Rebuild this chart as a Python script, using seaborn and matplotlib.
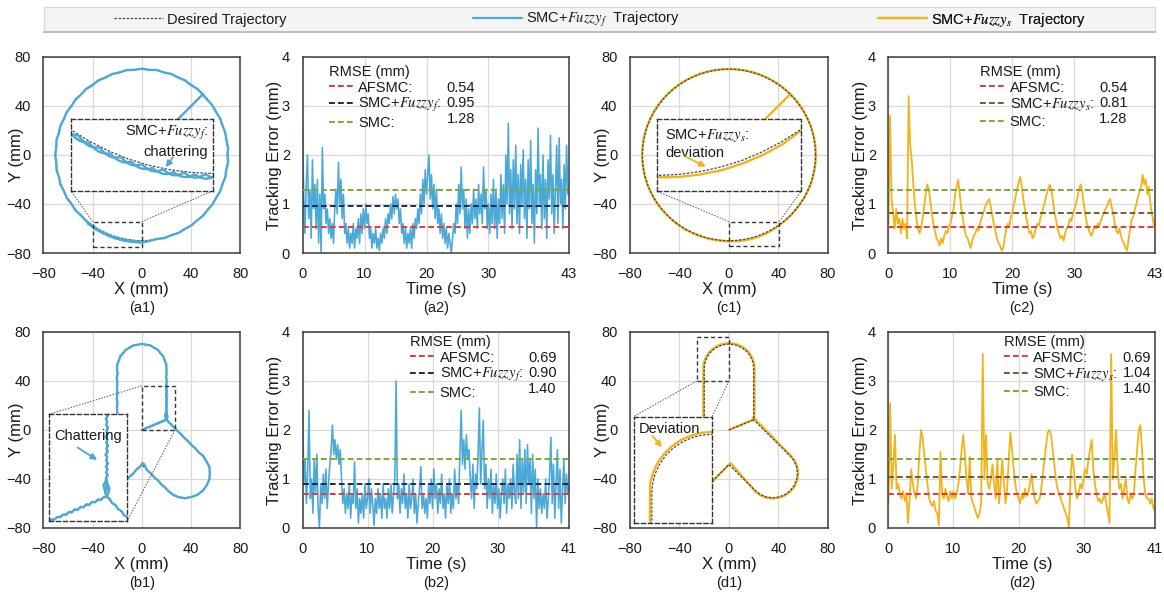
import numpy as np
import seaborn as sns
import matplotlib
matplotlib.use('Agg')
import matplotlib.pyplot as plt
from matplotlib.lines import Line2D
from matplotlib.patches import Rectangle

# ---------------------------------------------------------------- data
# Desired circle (mm), read every 5 degrees
desired_circle = [
    (70.0, 0.0), (69.7, 6.1), (68.9, 12.2), (67.6, 18.1), (65.8, 23.9), (63.4, 29.6), (60.6, 35.0),
    (57.3, 40.2), (53.6, 45.0), (49.5, 49.5), (45.0, 53.6), (40.2, 57.3), (35.0, 60.6), (29.6, 63.4),
    (23.9, 65.8), (18.1, 67.6), (12.2, 68.9), (6.1, 69.7), (0.0, 70.0), (-6.1, 69.7), (-12.2, 68.9),
    (-18.1, 67.6), (-23.9, 65.8), (-29.6, 63.4), (-35.0, 60.6), (-40.2, 57.3), (-45.0, 53.6),
    (-49.5, 49.5), (-53.6, 45.0), (-57.3, 40.2), (-60.6, 35.0), (-63.4, 29.6), (-65.8, 23.9),
    (-67.6, 18.1), (-68.9, 12.2), (-69.7, 6.1), (-70.0, 0.0), (-69.7, -6.1), (-68.9, -12.2),
    (-67.6, -18.1), (-65.8, -23.9), (-63.4, -29.6), (-60.6, -35.0), (-57.3, -40.2), (-53.6, -45.0),
    (-49.5, -49.5), (-45.0, -53.6), (-40.2, -57.3), (-35.0, -60.6), (-29.6, -63.4), (-23.9, -65.8),
    (-18.1, -67.6), (-12.2, -68.9), (-6.1, -69.7), (0.0, -70.0), (6.1, -69.7), (12.2, -68.9),
    (18.1, -67.6), (23.9, -65.8), (29.6, -63.4), (35.0, -60.6), (40.2, -57.3), (45.0, -53.6),
    (49.5, -49.5), (53.6, -45.0), (57.3, -40.2), (60.6, -35.0), (63.4, -29.6), (65.8, -23.9),
    (67.6, -18.1), (68.9, -12.2), (69.7, -6.1), (70.0, 0.0),
]

# SMC+Fuzzy_f on the circle (start segment, then one lap)
fuzzy_f_circle = [
    (0.0, 0.0), (12.3, 12.6), (24.6, 24.4), (37.2, 37.0), (49.5, 49.5),
    (45.2, 53.9), (40.0, 57.0), (35.2, 60.9), (29.5, 63.2), (24.0, 66.1), (18.0, 67.3), (12.3, 69.3),
    (6.1, 69.4), (0.0, 70.4), (-6.1, 69.4), (-12.3, 69.3), (-18.0, 67.3), (-24.0, 66.1), (-29.5, 63.2),
    (-35.2, 60.9), (-40.0, 57.0), (-45.2, 53.9), (-49.3, 49.3), (-53.9, 45.2), (-57.0, 40.0),
    (-60.9, 35.2), (-63.2, 29.5), (-66.1, 24.0), (-67.3, 18.0), (-69.3, 12.3), (-69.4, 6.1),
    (-70.4, 0.0), (-69.4, -6.1), (-69.3, -12.3), (-67.3, -18.0), (-66.1, -24.0), (-63.2, -29.5),
    (-60.9, -35.2), (-57.0, -40.0), (-53.9, -45.2), (-49.3, -49.3), (-45.2, -53.9),
    (-44, -54.6), (-43, -56.0), (-42, -57.2), (-41, -58.1), (-40, -58.7), (-39, -58.9), (-38, -59.0),
    (-37, -60.2), (-36, -61.3), (-35, -62.0), (-34, -62.4), (-33, -62.5), (-32, -62.5), (-31, -63.6),
    (-30, -64.5), (-29, -65.1), (-28, -65.4), (-27, -65.4), (-26, -65.2), (-25, -66.2), (-24, -67.0),
    (-23, -67.5), (-22, -67.7), (-21, -67.6), (-20, -67.3), (-19, -68.2), (-18, -68.9), (-17, -69.3),
    (-16, -69.4), (-15, -69.2), (-14, -68.8), (-13, -69.6), (-12, -70.2), (-11, -70.5), (-10, -70.5),
    (-9, -70.2), (-8, -69.7), (-7, -70.5), (-6, -71.0), (-5, -71.2), (-4, -71.1), (-3, -70.7),
    (-2, -70.2), (-1, -70.8), (0, -71.2), (1, -71.4), (2, -71.2),
    (6.1, -70.2), (12.1, -68.6), (18.2, -67.9), (23.8, -65.5), (29.7, -63.7), (34.9, -60.4),
    (40.3, -57.5), (44.9, -53.4), (49.7, -49.7), (53.4, -44.9), (57.5, -40.3), (60.4, -34.9),
    (63.7, -29.7), (65.5, -23.8), (67.9, -18.2), (68.6, -12.1), (70.2, -6.1), (69.6, 0.0),
    (70.1, 6.1), (68.7, 12.1), (67.9, 18.2), (65.6, 23.9), (63.7, 29.7), (60.4, 34.9), (57.5, 40.3),
    (53.4, 44.9), (49.5, 49.5),
]
# second pass of SMC+Fuzzy_f through the lower arc (visible in the zoom box)
fuzzy_f_circle_pass2 = [
    (-44, -55.9), (-43, -56.6), (-42, -57.0), (-41, -57.2), (-40, -58.5), (-39, -59.5), (-38, -60.3),
    (-37, -60.8), (-36, -61.0), (-35, -61.1), (-34, -62.2), (-33, -63.1), (-32, -63.8), (-31, -64.1),
    (-30, -64.3), (-29, -64.2), (-28, -65.2), (-27, -66.0), (-26, -66.5), (-25, -66.8), (-24, -66.8),
    (-23, -66.6), (-22, -67.5), (-21, -68.2), (-20, -68.6), (-19, -68.7), (-18, -68.7), (-17, -68.4),
    (-16, -69.2), (-15, -69.7), (-14, -70.1), (-13, -70.2), (-12, -70.0), (-11, -69.6), (-10, -70.3),
    (-9, -70.8), (-8, -71.0), (-7, -71.0), (-6, -70.7), (-5, -70.3), (-4, -70.9), (-3, -71.3),
    (-2, -71.5), (-1, -71.4), (0, -71.0), (1, -70.5), (2, -71.0),
]

# SMC+Fuzzy_s on the circle
fuzzy_s_circle = [
    (0.0, 0.0), (16.5, 16.5), (33.0, 33.0), (49.6, 49.6),
    (45.1, 53.8), (40.3, 57.5), (35.1, 60.8), (29.7, 63.6), (24.0, 66.0), (18.2, 67.8), (12.2, 69.1),
    (6.1, 69.9), (0.0, 70.2), (-6.1, 69.9), (-12.2, 69.1), (-18.2, 67.8), (-24.0, 66.0), (-29.7, 63.6),
    (-35.1, 60.8), (-40.3, 57.5), (-45.1, 53.8), (-49.6, 49.6), (-53.8, 45.1), (-57.5, 40.3),
    (-60.8, 35.1), (-63.6, 29.7), (-66.0, 24.0), (-67.8, 18.2), (-69.1, 12.2), (-69.9, 6.1),
    (-70.2, 0.0), (-69.9, -6.1), (-69.1, -12.2), (-67.8, -18.2), (-66.0, -24.0), (-63.6, -29.7),
    (-60.8, -35.1), (-57.5, -40.3), (-53.8, -45.1), (-49.6, -49.6), (-45.1, -53.8), (-40.3, -57.5),
    (-35.1, -60.8), (-29.7, -63.6), (-24.0, -66.0), (-18.2, -67.9), (-12.2, -69.2), (-6.1, -70.1),
    (0.0, -70.5), (6.2, -70.4), (12.3, -69.7), (18.3, -68.5), (24.2, -66.6), (29.9, -64.2),
    (35.4, -61.2), (40.3, -57.6), (45.2, -53.8), (49.6, -49.6), (53.7, -45.1), (57.3, -40.2),
    (60.8, -35.1), (63.6, -29.7), (66.0, -24.0), (67.8, -18.2), (69.1, -12.2), (69.9, -6.1),
    (70.2, 0.0), (69.9, 6.1), (69.1, 12.2), (67.8, 18.2), (66.0, 24.0), (63.6, 29.7), (60.8, 35.1),
    (57.5, 40.3), (53.8, 45.1), (49.6, 49.6),
]

# Desired three-lobe path (mm)
desired_lobes = [
    (0.0, 0.0), (20.0, 8.3),
    (20.0, 50.0), (19.7, 53.5), (18.8, 56.8), (17.3, 60.0), (15.3, 62.9), (12.9, 65.3), (10.0, 67.3),
    (6.8, 68.8), (3.5, 69.7), (0.0, 70.0), (-3.5, 69.7), (-6.8, 68.8), (-10.0, 67.3), (-12.9, 65.3),
    (-15.3, 62.9), (-17.3, 60.0), (-18.8, 56.8), (-19.7, 53.5), (-20.0, 50.0),
    (-20.0, 8.3),
    (-49.5, -21.3), (-52.7, -25.4), (-54.7, -30.2), (-55.4, -35.4), (-54.7, -40.6), (-52.7, -45.4),
    (-49.5, -49.5), (-45.4, -52.7), (-40.6, -54.7), (-35.4, -55.4), (-30.2, -54.7), (-25.4, -52.7),
    (-21.3, -49.5),
    (0.0, -28.3),
    (21.3, -49.5), (25.4, -52.7), (30.2, -54.7), (35.4, -55.4), (40.6, -54.7), (45.4, -52.7),
    (49.5, -49.5), (52.7, -45.4), (54.7, -40.6), (55.4, -35.4), (54.7, -30.2), (52.7, -25.4),
    (49.5, -21.3),
    (20.0, 8.3),
]

# SMC+Fuzzy_f on the three-lobe path (chattering)
fuzzy_f_lobes = [
    (0, 0.0), (1, 0.7), (2, 0.6), (3, 1.5), (4, 1.4), (5, 2.3), (6, 2.2), (7, 3.2), (8, 3.0), (9, 4.1),
    (10, 3.9), (11, 4.9), (12, 4.7), (13, 5.8), (14, 5.5), (15, 6.6), (16, 6.4), (17, 7.4), (18, 7.2),
    (19, 8.2), (20, 8.3),
    (20.3, 9.0), (20.8, 10.0), (20.9, 11.2), (20.3, 12.4), (19.4, 13.0), (18.9, 12.2), (19.2, 11.0),
    (19.9, 10.6), (20.4, 11.5), (20.1, 13.5), (19.7, 14.5), (20.4, 15.5), (19.8, 16.5), (20.3, 17.5),
    (19.7, 18.5), (20.5, 19.5), (19.8, 20.5), (20.2, 21.5), (19.6, 22.5), (20.4, 23.5), (19.9, 24.5),
    (20.5, 25.5), (19.8, 26.5), (20.3, 27.5), (19.6, 28.5), (20.4, 29.5), (19.9, 30.5), (20.5, 31.5),
    (19.8, 32.5), (20.2, 33.5), (19.7, 34.5), (20.4, 35.5), (20.0, 37.0), (20.3, 40.0), (19.8, 43.0),
    (20.2, 46.0),
    (20.1, 50.0), (19.9, 53.6), (18.6, 56.7), (17.5, 60.1), (15.1, 62.7), (13.0, 65.5), (9.9, 67.1),
    (6.9, 69.1), (3.4, 69.5), (0.0, 70.2), (-3.5, 69.5), (-6.9, 69.0), (-9.9, 67.1), (-13.0, 65.5),
    (-15.1, 62.7), (-17.5, 60.2), (-18.6, 56.6), (-19.9, 53.6), (-20.1, 50.0),
    (-19.7, 46.0), (-20.3, 42.0), (-19.8, 38.0), (-20.2, 34.0), (-19.7, 30.0), (-20.3, 26.0),
    (-19.8, 22.0), (-20.2, 18.0), (-19.8, 14.0), (-20.1, 10.0), (-20.0, 8.3),
    (-49.5, -21.3), (-52.7, -25.4), (-54.7, -30.2), (-55.4, -35.4), (-54.7, -40.6), (-52.7, -45.4),
    (-49.5, -49.5), (-45.4, -52.7), (-40.6, -54.7), (-35.4, -55.4), (-30.2, -54.7), (-25.4, -52.7),
    (-21.3, -49.5),
    (-16.0, -44.6), (-12.0, -40.0), (-8.0, -36.6), (-4.0, -32.0), (-1.0, -29.6), (0.5, -27.0),
    (2.0, -28.0),
    (4.0, -32.6), (7.0, -35.0), (10.0, -38.6), (13.0, -41.0), (16.0, -44.6), (19.0, -47.0), (21.5, -49.8),
    (25.6, -53.0), (30.0, -54.9), (35.4, -55.8), (40.8, -54.5), (45.2, -53.0), (49.8, -49.3),
    (52.5, -45.6), (55.0, -40.4), (55.2, -35.6), (55.0, -30.0), (52.4, -25.6), (49.8, -21.0),
    (46.5, -18.5), (43.5, -15.0), (40.5, -12.4), (37.5, -9.0), (34.5, -6.4), (31.5, -3.0), (28.5, -0.4),
    (27.0, 1.6), (26.0, 2.0), (25.0, 3.6), (24.0, 4.0), (23.0, 5.6), (22.0, 6.0), (21.0, 7.6),
    (20.4, 8.0), (19.5, 9.5), (19.2, 12.0), (19.8, 14.0),
]

# SMC+Fuzzy_s on the three-lobe path (smooth deviation)
fuzzy_s_lobes = [
    (0.0, 0.0), (10.0, 4.3), (20.4, 8.8), (20.6, 20.0), (20.6, 35.0),
    (20.6, 50.0), (20.5, 53.6), (19.5, 57.1), (18.0, 60.4), (15.9, 63.4), (13.4, 65.9), (10.4, 68.0),
    (7.1, 69.5), (3.6, 70.5), (0.0, 70.8), (-3.6, 70.5), (-7.1, 69.5), (-10.4, 68.0), (-13.4, 65.9),
    (-15.9, 63.4), (-18.0, 60.4), (-19.5, 57.1), (-20.5, 53.6), (-20.6, 50.0),
    (-20.6, 35.0), (-20.6, 20.0), (-20.6, 8.0),
    (-49.9, -20.9), (-53.2, -25.1), (-55.2, -30.1), (-55.9, -35.4), (-55.2, -40.7), (-53.2, -45.7),
    (-49.9, -49.9), (-45.7, -53.2), (-40.7, -55.2), (-35.4, -55.9), (-30.1, -55.2), (-25.1, -53.2),
    (-20.9, -49.9),
    (1.2, -27.0),
    (21.0, -49.8), (25.1, -53.2), (30.1, -55.2), (35.4, -55.9), (40.7, -55.2), (45.7, -53.2),
    (49.9, -49.9), (53.2, -45.7), (55.2, -40.7), (55.9, -35.4), (55.2, -30.1), (53.2, -25.1),
    (49.9, -20.9),
    (20.5, 9.2), (19.8, 10.5), (20.3, 9.0),
]

# Tracking errors (mm), equally spaced samples over the run
duration_circle = 43
duration_lobes = 41
err_fuzzy_f_circle = [
    2.6, 1.1, 0.4, 1.4, 2.0, 0.7, 1.3, 0.3, 1.9, 0.9, 1.4, 0.5, 1.5, 0.2, 1.2,
    0.0, 2.15, 0.9, 1.2, 0.6, 0.9, 0.4, 0.7, 0.3, 0.6, 0.2, 0.9, 1.3, 0.8, 1.85,
    1.0, 1.5, 0.7, 1.2, 0.4, 0.6, 0.2, 0.5, 0.1, 0.4, 0.2, 0.6, 0.1, 0.5, 0.3,
    0.7, 0.2, 0.8, 0.4, 0.9, 0.5, 1.0, 0.6, 0.8, 0.3, 0.5, 0.1, 0.4, 0.2, 0.5,
    0.1, 0.3, 0.05, 0.4, 0.2, 0.5, 0.3, 0.7, 0.4, 0.8, 0.6, 1.0, 0.7, 1.15, 0.8,
    1.2, 0.9, 1.1, 0.6, 0.9, 0.4, 0.6, 0.2, 0.5, 0.1, 0.4, 0.2, 0.5, 0.1, 0.6,
    0.3, 0.7, 0.5, 0.9, 0.6, 1.2, 0.8, 1.5, 1.0, 1.7, 1.2, 1.6, 2.0, 1.1, 1.6,
    0.9, 1.4, 0.7, 1.3, 0.6, 0.9, 0.4, 0.8, 0.3, 0.6, 0.2, 0.5, 0.1, 0.4, 0.2,
    0.0, 0.3, 0.6, 0.4, 1.0, 0.6, 1.4, 0.8, 1.75, 0.9, 1.3, 0.5, 1.1, 0.3, 0.9,
    0.4, 1.0, 0.6, 1.3, 0.7, 1.1, 0.5, 1.4, 0.8, 1.2, 0.6, 1.75, 0.9, 1.3, 0.5,
    1.0, 0.4, 1.2, 0.6, 1.5, 0.5, 1.3, 0.3, 1.1, 0.6, 1.6, 0.7, 1.4, 0.4, 2.0,
    1.0, 2.65, 0.8, 1.7, 0.5, 1.9, 0.9, 2.2, 0.6, 1.6, 0.4, 1.8, 1.0, 2.1, 0.7,
    1.5, 0.3, 1.9, 0.9, 2.3, 0.6, 1.4, 0.2, 1.7, 0.8, 2.55, 1.0, 1.6, 0.5, 2.0,
    0.7, 1.5, 0.3, 1.9, 1.1, 2.4, 0.8, 1.6, 0.4, 1.3, 2.2, 0.6, 2.35, 1.0, 1.5,
    0.5, 1.8, 0.9, 2.2, 1.2, 1.4,
]
err_fuzzy_f_lobes = [
    2.55, 0.9, 1.4, 0.5, 1.2, 2.4, 0.6, 1.0, 0.3, 1.4, 0.7, 1.5, 0.4, 0.0, 0.9,
    0.5, 1.1, 0.6, 1.2, 0.4, 0.9, 1.3, 1.6, 2.1, 1.5, 1.8, 1.4, 1.7, 1.3, 1.6,
    1.0, 0.5, 0.8, 0.3, 0.7, 0.4, 0.9, 0.2, 0.7, 0.5, 1.35, 0.4, 0.8, 0.1, 0.6,
    0.3, 0.7, 0.2, 0.9, 0.4, 0.6, 1.0, 0.3, 0.8, 0.5, 0.05, 0.6, 0.3, 0.8, 0.4,
    0.7, 0.2, 0.9, 0.4, 0.6, 0.2, 0.8, 0.4, 0.9, 0.3, 0.7, 1.0, 3.0, 0.6, 0.9,
    0.3, 0.8, 0.5, 1.1, 0.4, 0.7, 0.2, 0.9, 0.4, 0.6, 1.0, 0.3, 0.7, 0.1, 0.5,
    0.8, 1.25, 0.4, 0.7, 0.3, 0.6, 0.2, 0.9, 0.5, 1.0, 0.4, 1.2, 0.6, 0.9, 0.3,
    0.8, 0.5, 1.1, 0.4, 0.7, 0.2, 0.9, 0.5, 1.0, 0.3, 0.7, 0.4, 1.2, 0.6, 0.9,
    0.5, 1.5, 2.4, 1.3, 1.8, 1.2, 1.9, 1.4, 1.6, 1.0, 0.6, 1.3, 0.4, 1.1, 0.8,
    1.5, 2.45, 0.9, 1.6, 2.2, 0.8, 1.3, 0.4, 1.0, 0.6, 1.2, 0.3, 0.9, 0.5, 1.1,
    0.4, 0.8, 0.2, 0.7, 1.0, 0.5, 1.2, 0.3, 0.9, 0.6, 1.0, 0.4, 1.3, 0.7, 0.5,
    1.5, 0.6, 1.8, 0.4, 1.4, 0.7, 1.6, 0.5, 1.7, 0.9, 1.4, 0.3, 1.5, 0.6, 1.2,
    0.0, 1.0, 0.4, 0.8, 0.3, 0.7, 0.4, 1.0, 0.2, 0.6, 1.1, 1.85, 0.5, 1.3, 0.2,
    0.9, 1.6, 0.4, 1.2, 0.1, 0.8, 1.4, 0.5, 1.1, 0.7, 0.9,
]
err_fuzzy_s_circle = [
    0.6, 2.8, 1.1, 0.8, 0.5, 0.9, 0.6, 0.7, 0.4, 0.7, 0.5, 0.6,
    0.3, 3.2, 2.2, 1.9, 1.4, 1.0, 0.7, 0.5, 0.4, 0.5, 0.7, 0.95,
    1.2, 1.4, 1.3, 1.05, 0.8, 0.6, 0.45, 0.3, 0.25, 0.15, 0.3, 0.2,
    0.35, 0.45, 0.4, 0.55, 0.6, 0.75, 0.9, 1.2, 1.35, 1.5, 1.2, 0.9,
    0.7, 0.5, 0.35, 0.3, 0.2, 0.1, 0.25, 0.35, 0.4, 0.5, 0.45, 0.6,
    0.7, 0.8, 0.9, 1.0, 1.05, 1.1, 0.95, 0.75, 0.6, 0.45, 0.3, 0.2,
    0.15, 0.05, 0.1, 0.3, 0.5, 0.6, 0.55, 0.75, 0.85, 1.0, 1.15, 1.3,
    1.45, 1.55, 1.35, 1.1, 0.9, 0.7, 0.55, 0.4, 0.45, 0.3, 0.35, 0.5,
    0.6, 0.55, 0.7, 0.8, 0.95, 1.05, 1.2, 1.3, 1.4, 1.3, 1.1, 0.85,
    0.7, 0.5, 0.4, 0.3, 0.35, 0.25, 0.4, 0.5, 0.55, 0.7, 0.65, 0.8,
    0.9, 1.0, 1.15, 1.3, 1.4, 1.25, 1.0, 0.8, 0.6, 0.5, 0.4, 0.35,
    0.45, 0.55, 0.5, 0.6, 0.55, 0.65, 0.75, 0.8, 0.9, 0.95, 1.05, 1.1,
    0.95, 0.8, 0.6, 0.45, 0.4, 0.5, 0.35, 0.25, 0.2, 0.1, 0.05, 0.3,
    0.5, 0.7, 0.75, 0.9, 1.0, 1.15, 1.25, 1.35, 1.6, 1.4, 1.5, 1.2,
    1.35, 1.0, 0.8, 0.6, 0.5,
]
err_fuzzy_s_lobes = [
    0.5, 2.55, 0.8, 1.3, 1.9, 0.8, 0.9, 0.7, 0.6, 0.75, 0.55, 0.7,
    0.1, 0.6, 1.2, 0.9, 0.7, 0.6, 0.9, 1.5, 2.0, 1.85, 1.5, 1.2,
    0.9, 0.6, 0.5, 0.45, 0.55, 0.35, 0.3, 0.05, 1.55, 0.7, 0.6, 0.8,
    0.65, 0.55, 0.75, 0.6, 0.75, 0.6, 0.7, 0.9, 1.2, 1.6, 1.9, 1.5,
    1.0, 0.7, 1.45, 0.6, 0.5, 0.4, 0.3, 0.2, 0.3, 0.5, 3.55, 1.0,
    1.9, 0.9, 0.8, 1.0, 1.3, 0.9, 0.6, 1.4, 0.5, 0.9, 1.4, 0.9,
    0.5, 0.8, 1.4, 1.95, 1.6, 1.2, 0.9, 0.7, 0.6, 0.5, 0.7, 0.6,
    0.8, 0.65, 0.7, 0.9, 1.1, 0.8, 0.6, 0.5, 0.55, 0.6, 0.8, 1.1,
    1.4, 1.7, 1.95, 2.0, 1.9, 1.6, 1.3, 1.0, 0.8, 0.7, 0.6, 0.5,
    0.4, 0.3, 0.2, 0.0, 1.0, 1.5, 1.2, 0.8, 0.6, 0.7, 0.9, 0.8,
    1.0, 1.2, 1.1, 1.4, 1.6, 1.8, 1.2, 0.9, 0.7, 0.55, 0.6, 0.5,
    0.6, 0.7, 0.5, 0.3, 0.1, 3.55, 1.0, 1.4, 2.0, 1.2, 0.8, 0.9,
    0.6, 0.8, 1.0, 0.6, 0.5, 0.7, 0.6, 0.7, 1.2, 1.6, 2.0, 2.1,
    1.6, 1.0, 0.7, 0.6, 0.6, 0.5, 0.6, 0.4, 0.35,
]

rmse_labels_f = ['AFSMC:', 'SMC+$Fuzzy_f$:', 'SMC:']
rmse_labels_s = ['AFSMC:', 'SMC+$Fuzzy_s$:', 'SMC:']
rmse_a2 = [0.54, 0.95, 1.28]
rmse_b2 = [0.69, 0.90, 1.40]
rmse_c2 = [0.54, 0.81, 1.28]
rmse_d2 = [0.69, 1.04, 1.40]

# ---------------------------------------------------------------- style
BLUE = '#4aa9d6'
YELLOW = '#f2b31b'
GREY = '#4a4a4a'
RED = '#e6393a'
NAVY = '#1d2b52'
OLIVE = '#6b6032'
GREEN = '#7aab33'

sns.set_theme(style='whitegrid')
plt.rcParams['font.family'] = ['Liberation Sans', 'DejaVu Sans']
plt.rcParams['mathtext.fontset'] = 'stix'
plt.rcParams.update({
    'font.size': 10.5, 'axes.edgecolor': '#3c3c3c', 'axes.linewidth': 1.1,
    'grid.color': '#d9d9d9', 'grid.linewidth': 0.9,
    'xtick.labelsize': 10.5, 'ytick.labelsize': 10.5,
    'xtick.major.pad': 4, 'ytick.major.pad': 3,
    'text.color': '#1a1a1a', 'xtick.color': '#1a1a1a', 'ytick.color': '#1a1a1a',
    'axes.labelcolor': '#1a1a1a',
})

fig = plt.figure(figsize=(11.64, 5.96), dpi=100)
col_left = [0.0372, 0.2599, 0.5412, 0.7633]
col_width = [0.1692, 0.2290, 0.1701, 0.2290]
row_bottom = [0.5755, 0.1141]
row_height = 0.329


def corner(box, name):
    x0, y0, w, h = box
    return (x0 + (w if 'r' in name else 0), y0 + (h if 't' in name else 0))


def draw_paths(ax, desired, actual, color, desired_on_top):
    for path in actual:
        px, py = np.array(path, dtype=float).T
        sns.lineplot(x=px, y=py, ax=ax, color=color, lw=1.7, sort=False,
                     estimator=None, zorder=2)
    dx, dy = np.array(desired, dtype=float).T
    sns.lineplot(x=dx, y=dy, ax=ax, color=GREY, lw=0.9, ls=(0, (2, 1.2)), sort=False,
                 estimator=None, zorder=3 if desired_on_top else 1.5)


def trajectory_panel(ax, desired, actual, color, desired_on_top, tag):
    draw_paths(ax, desired, actual, color, desired_on_top)
    ticks = [-80, -40, 0, 40, 80]
    ax.set_xlim(-80, 80)
    ax.set_ylim(-80, 80)
    ax.set_xticks(ticks)
    ax.set_yticks(ticks)
    ax.set_xlabel('X (mm)')
    ax.set_ylabel('Y (mm)')
    ax.xaxis.set_label_coords(0.5, -0.15)
    ax.yaxis.set_label_coords(-0.1, 0.5)
    ax.text(0.5, -0.283, tag, transform=ax.transAxes, ha='center', va='center')


def add_zoom(ax, src, dst, links, desired, actual, color, desired_on_top,
             note, note_pos, ha, va, arrow):
    ins = ax.inset_axes(dst, transform=ax.transData)
    draw_paths(ins, desired, actual, color, desired_on_top)
    ins.set_xlim(src[0], src[0] + src[2])
    ins.set_ylim(src[1], src[1] + src[3])
    ins.set_xticks([])
    ins.set_yticks([])
    ins.set_xlabel('')
    ins.set_ylabel('')
    ins.grid(False)
    ins.set_facecolor('white')
    for s in ins.spines.values():
        s.set_linestyle((0, (3, 2)))
        s.set_color('#333333')
        s.set_linewidth(1.0)
    ax.add_patch(Rectangle(src[:2], src[2], src[3], fill=False, ec='#333333', lw=1.0,
                           ls=(0, (3, 2)), zorder=4))
    for a, b in links:
        p, q = corner(src, a), corner(dst, b)
        ax.plot([p[0], q[0]], [p[1], q[1]], color='#555555', lw=0.7,
                ls=(0, (1.5, 1.5)), zorder=4)
    ins.text(note_pos[0], note_pos[1], note, transform=ins.transAxes, ha=ha, va=va,
             multialignment=ha, fontsize=10.5)
    ins.annotate('', xy=arrow[1], xytext=arrow[0], xycoords='axes fraction',
                 textcoords='axes fraction',
                 arrowprops=dict(arrowstyle='-|>', color=color, lw=1.3, mutation_scale=9,
                                 shrinkA=0, shrinkB=0))


def error_panel(ax, duration, err, color, lw, rmse, labels, colors, anchor, tag):
    t = np.linspace(0, duration, len(err))
    sns.lineplot(x=t, y=err, ax=ax, color=color, lw=lw, sort=False, estimator=None, zorder=2)
    dash = (0, (3, 1.6))
    for v, c in zip(rmse, colors):
        ax.axhline(v, color=c, lw=1.4, ls=dash, zorder=3)
    handles = [Line2D([], [], color=c, lw=1.4, ls=dash) for c in colors]
    blanks = [Line2D([], [], alpha=0) for _ in rmse]
    ax.legend(handles + blanks, labels + [f'{v:.2f}' for v in rmse], ncol=2,
              title='RMSE (mm)', title_fontsize=10.5, alignment='left', loc='upper left',
              bbox_to_anchor=anchor, frameon=False, borderpad=0, borderaxespad=0,
              handlelength=1.7, handletextpad=0.3, columnspacing=-1.65, labelspacing=0.12,
              fontsize=10.5)
    ax.set_xlim(0, duration)
    ax.set_ylim(0, 4)
    ax.set_xticks([0, 10, 20, 30, duration])
    ax.set_yticks([0, 1, 2, 3, 4])
    ax.set_xlabel('Time (s)')
    ax.set_ylabel('Tracking Error (mm)')
    ax.xaxis.set_label_coords(0.5, -0.15)
    ax.yaxis.set_label_coords(-0.078, 0.5)
    ax.text(0.5, -0.283, tag, transform=ax.transAxes, ha='center', va='center')


axes = {}
for r, row in enumerate([['a1', 'a2', 'c1', 'c2'], ['b1', 'b2', 'd1', 'd2']]):
    for c, name in enumerate(row):
        axes[name] = fig.add_axes([col_left[c], row_bottom[r], col_width[c], row_height])

# (a1) circle, SMC+Fuzzy_f
trajectory_panel(axes['a1'], desired_circle, [fuzzy_f_circle, fuzzy_f_circle_pass2],
                 BLUE, False, '(a1)')
add_zoom(axes['a1'], [-40, -75, 40, 20.6], [-57.5, -29.3, 115, 58.4],
         [('tl', 'bl'), ('tr', 'br')], desired_circle,
         [fuzzy_f_circle, fuzzy_f_circle_pass2], BLUE, False,
         'SMC+$Fuzzy_f$:\nchattering', (0.97, 0.93), 'right', 'top',
         ((0.72, 0.47), (0.67, 0.33)))

# (c1) circle, SMC+Fuzzy_s
trajectory_panel(axes['c1'], desired_circle, [fuzzy_s_circle], YELLOW, True, '(c1)')
add_zoom(axes['c1'], [0, -74.3, 40.5, 19.9], [-58.5, -29.4, 117, 58.4],
         [('tl', 'bl'), ('tr', 'br')], desired_circle, [fuzzy_s_circle], YELLOW, True,
         'SMC+$Fuzzy_s$:\ndeviation', (0.06, 0.90), 'left', 'top',
         ((0.2, 0.48), (0.34, 0.34)))

# (b1) three lobes, SMC+Fuzzy_f
trajectory_panel(axes['b1'], desired_lobes, [fuzzy_f_lobes], BLUE, False, '(b1)')
add_zoom(axes['b1'], [0, 0, 27, 36], [-75.7, -74.6, 63.7, 87.3],
         [('tl', 'tl'), ('br', 'br')], desired_lobes, [fuzzy_f_lobes], BLUE, False,
         'Chattering', (0.07, 0.80), 'left', 'center',
         ((0.37, 0.69), (0.62, 0.575)))

# (d1) three lobes, SMC+Fuzzy_s
trajectory_panel(axes['d1'], desired_lobes, [fuzzy_s_lobes], YELLOW, True, '(d1)')
add_zoom(axes['d1'], [-26, 40, 26, 36], [-77, -75.6, 63.4, 86.5],
         [('bl', 'tl'), ('br', 'tr')], desired_lobes, [fuzzy_s_lobes], YELLOW, True,
         'Deviation', (0.065, 0.95), 'left', 'top',
         ((0.24, 0.82), (0.36, 0.71)))

# tracking errors
error_panel(axes['a2'], duration_circle, err_fuzzy_f_circle, BLUE, 1.15, rmse_a2,
            rmse_labels_f, [RED, NAVY, GREEN], (0.10, 0.96), '(a2)')
error_panel(axes['b2'], duration_lobes, err_fuzzy_f_lobes, BLUE, 1.15, rmse_b2,
            rmse_labels_f, [RED, NAVY, GREEN], (0.405, 0.985), '(b2)')
error_panel(axes['c2'], duration_circle, err_fuzzy_s_circle, YELLOW, 1.3, rmse_c2,
            rmse_labels_s, [RED, OLIVE, GREEN], (0.345, 0.96), '(c2)')
error_panel(axes['d2'], duration_lobes, err_fuzzy_s_lobes, YELLOW, 1.3, rmse_d2,
            rmse_labels_s, [RED, OLIVE, GREEN], (0.433, 0.985), '(d2)')

# shared legend bar on top
ax_leg = fig.add_axes([0.0378, 0.9455, 0.9545, 0.0433])
ax_leg.set_facecolor('#f4f4f4')
ax_leg.set_xticks([])
ax_leg.set_yticks([])
ax_leg.grid(False)
for name, s in ax_leg.spines.items():
    s.set_color('#bdbdbd' if name == 'bottom' else '#dadada')
    s.set_linewidth(1.4 if name == 'bottom' else 0.8)
legend_items = [
    (Line2D([], [], color=GREY, lw=0.9, ls=(0, (2, 1.2))), 'Desired Trajectory', 0.063),
    (Line2D([], [], color=BLUE, lw=1.6), 'SMC+$Fuzzy_f$  Trajectory', 0.386),
    (Line2D([], [], color=YELLOW, lw=1.6), 'SMC+$Fuzzy_s$  Trajectory', 0.7507),
]
for handle, label, x in legend_items:
    leg = ax_leg.legend([handle], [label], loc='center left', bbox_to_anchor=(x, 0.5),
                        frameon=False, borderpad=0, borderaxespad=0, handlelength=3.35,
                        handletextpad=0.3, fontsize=10.5)
    ax_leg.add_artist(leg)

fig.savefig('out.png', dpi=100)
